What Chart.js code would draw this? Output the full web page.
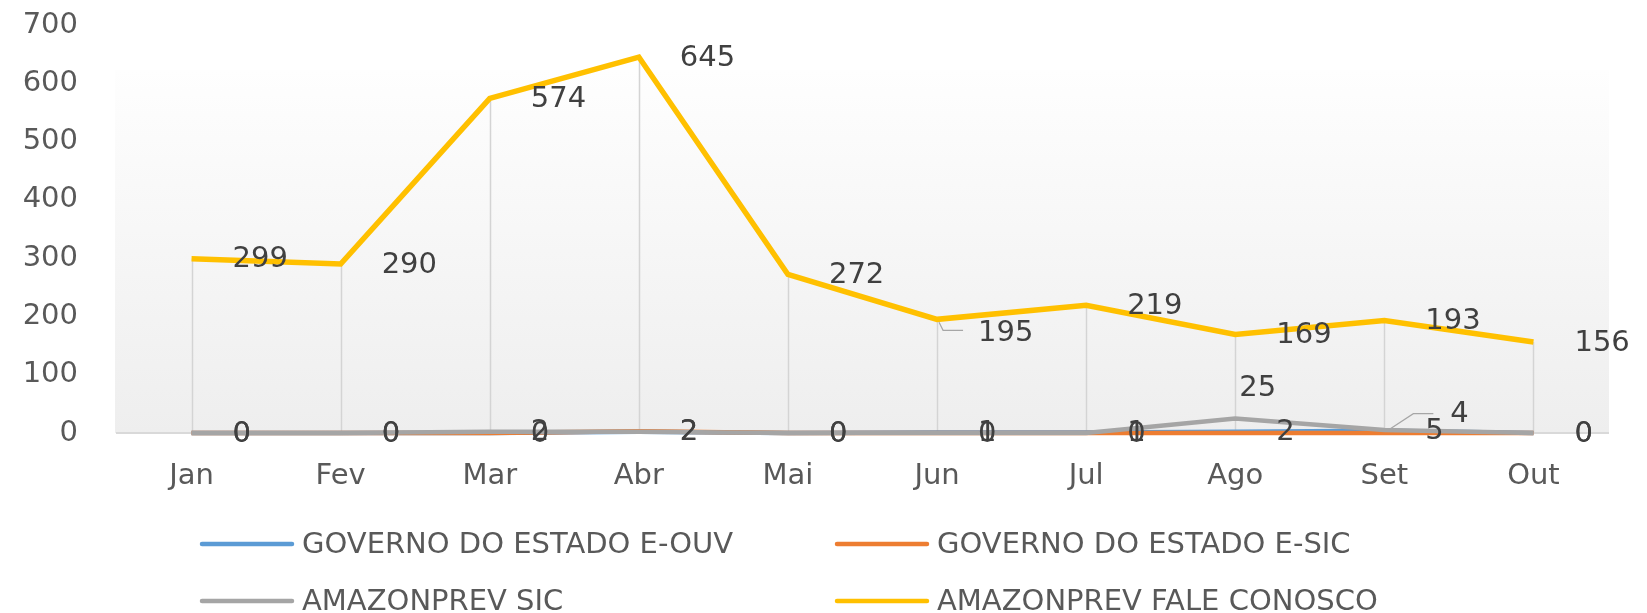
<!DOCTYPE html>
<html><head><meta charset="utf-8">
<script src="https://cdn.jsdelivr.net/npm/chart.js@4.4.0/dist/chart.umd.min.js"></script>
<style>html,body{margin:0;padding:0;background:#fff;} #wrap{width:1647px;height:613px;position:relative;}</style>
</head><body><div id="wrap"><canvas id="c" width="1647" height="613"></canvas></div>
<script>
const categories = ['Jan','Fev','Mar','Abr','Mai','Jun','Jul','Ago','Set','Out'];
const eouv = [0,0,0,2,0,1,1,2,4,0];
const esic = [0,0,0,3,0,0,0,0,0,0];
const amazonSic = [0,0,2,2,0,0,0,25,5,0];
const faleConosco = [299,290,574,645,272,195,219,169,193,156];
const yTicks = [0,100,200,300,400,500,600,700];
const seriesNames = ['GOVERNO DO ESTADO E-OUV','GOVERNO DO ESTADO E-SIC','AMAZONPREV SIC','AMAZONPREV FALE CONOSCO'];
const seriesColors = ['#5b9bd5','#ed7d31','#a5a5a5','#ffc000'];
const labeledSeries = [0,2,3];

const FONT = "'DejaVu Sans', 'Liberation Sans', sans-serif";
const TXT = '#595959';

// label placement tweaks (offsets relative to the point), like Excel's manually moved labels
const labelAdjust = {
  '3-5': {dx:41, dy:14, leader:[[2,3],[6,11],[26,11]]},
  '0-8': {dx:66, dy:-16, leader:[[6,-2],[29,-17],[49,-17]]},
  '2-7': {dx:4, dy:-30}
};

const bgPlugin = {
  id:'bg',
  beforeDraw(chart){
    const {ctx, chartArea:a} = chart;
    const top = a.top + 45;
    const g = ctx.createLinearGradient(0, top, 0, a.bottom);
    g.addColorStop(0,'#fefefe');
    g.addColorStop(1,'#eeeeee');
    ctx.save();
    ctx.fillStyle = g;
    ctx.fillRect(a.left-2, top, a.right - a.left + 3, a.bottom - top);
    ctx.restore();
  },
  beforeDatasetsDraw(chart){
    const {ctx, chartArea:a} = chart;
    const xs = chart.scales.x, ys = chart.scales.y;
    ctx.save();
    ctx.strokeStyle = '#d4d4d4';
    ctx.lineWidth = 1.5;
    categories.forEach((c,i)=>{
      const mx = Math.max(...chart.data.datasets.map(d=>d.data[i]));
      const x = Math.round(xs.getPixelForValue(i)) + 0.5;
      ctx.beginPath();
      ctx.moveTo(x, ys.getPixelForValue(mx));
      ctx.lineTo(x, a.bottom);
      ctx.stroke();
    });
    ctx.restore();
  },
  afterDatasetsDraw(chart){
    const ctx = chart.ctx;
    ctx.save();
    ctx.font = '29px ' + FONT;
    ctx.textAlign = 'left';
    ctx.textBaseline = 'middle';
    labeledSeries.forEach(di=>{
      const meta = chart.getDatasetMeta(di);
      const ds = chart.data.datasets[di];
      meta.data.forEach((pt,i)=>{
        const adj = labelAdjust[di+'-'+i] || {dx:41, dy:1};
        if (adj.leader){
          ctx.strokeStyle = '#a6a6a6';
          ctx.lineWidth = 1.2;
          ctx.beginPath();
          adj.leader.forEach((p,k)=>{ const X=pt.x+p[0], Y=pt.y+p[1]; k?ctx.lineTo(X,Y):ctx.moveTo(X,Y); });
          ctx.stroke();
        }
        ctx.fillStyle = '#404040';
        ctx.fillText(String(ds.data[i]), pt.x + adj.dx, pt.y + adj.dy);
      });
    });
    ctx.restore();
  },
  afterDraw(chart){
    const ctx = chart.ctx;
    const cols = [200, 835], rows = [544, 601];
    ctx.save();
    ctx.font = '29px ' + FONT;
    ctx.textAlign = 'left';
    ctx.textBaseline = 'middle';
    seriesNames.forEach((name,i)=>{
      const x = cols[i%2], y = rows[Math.floor(i/2)];
      ctx.strokeStyle = seriesColors[i];
      ctx.lineWidth = 4.5;
      ctx.lineCap = 'round';
      ctx.beginPath(); ctx.moveTo(x+2, y); ctx.lineTo(x+92, y); ctx.stroke();
      ctx.fillStyle = TXT;
      ctx.fillText(name, x + 102, y + 1);
    });
    ctx.restore();
  }
};

function zeroPad(s){ s.paddingTop = 0; s.paddingBottom = 0; s.paddingLeft = 0; s.paddingRight = 0; }

const allSeries = [eouv, esic, amazonSic, faleConosco];
new Chart(document.getElementById('c'), {
  type:'line',
  data:{
    labels: categories,
    datasets: allSeries.map((d,i)=>({
      label: seriesNames[i],
      data: d,
      borderColor: seriesColors[i],
      backgroundColor: seriesColors[i],
      borderWidth: i===3 ? 5.5 : 4.5,
      pointRadius: 0,
      tension: 0,
      fill: false,
      clip: false,
      order: 3 - i
    }))
  },
  options:{
    responsive:false,
    animation:false,
    layout:{padding:{left:0,right:39,top:25,bottom:100}},
    plugins:{legend:{display:false}, tooltip:{enabled:false}, title:{display:false}},
    scales:{
      x:{
        type:'category', offset:true,
        grid:{display:false, drawTicks:false},
        border:{display:true, color:'#d9d9d9', width:2},
        ticks:{font:{family:FONT, size:29}, color:TXT, padding:26, maxRotation:0},
        afterFit(s){ s.height = 80; zeroPad(s); }
      },
      y:{
        min:0, max:700,
        grid:{display:false, drawTicks:false},
        border:{display:false},
        ticks:{font:{family:FONT, size:29}, color:TXT, padding:39, stepSize:100},
        afterBuildTicks(s){ s.ticks = yTicks.map(v=>({value:v})); },
        afterFit(s){ s.width = 117; zeroPad(s); }
      }
    }
  },
  plugins:[bgPlugin]
});
</script>
</body></html>
